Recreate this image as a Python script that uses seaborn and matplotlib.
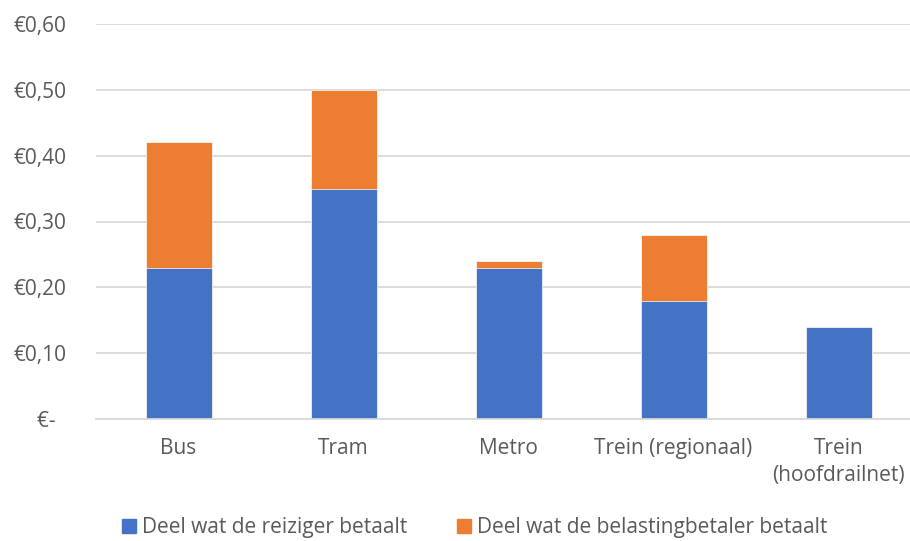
import numpy as np
import matplotlib
matplotlib.use("Agg")
import matplotlib.pyplot as plt
import seaborn as sns
from matplotlib.patches import Patch

categories = ["Bus", "Tram", "Metro", "Trein (regionaal)", "Trein\n(hoofdrailnet)"]
reiziger = [0.23, 0.35, 0.23, 0.18, 0.14]
belasting = [0.19, 0.15, 0.01, 0.10, 0.00]
totaal = [r + b for r, b in zip(reiziger, belasting)]
yticks = [0.0, 0.1, 0.2, 0.3, 0.4, 0.5, 0.6]
ylabels = ["€-  ", "€0,10", "€0,20", "€0,30", "€0,40", "€0,50", "€0,60"]

blue = "#4472C4"
orange = "#ED7D31"
txt = "#595959"
grid = "#D9D9D9"
fs = 15

sns.set_style("white")
plt.rcParams['font.family'] = ['Open Sans', 'DejaVu Sans']

fig = plt.figure(figsize=(9.1, 5.41), dpi=100)
ax = fig.add_axes([96/910, 1 - 419/541, 825/910, 395/541])

# orange stack = total, blue drawn over it
sns.barplot(x=categories, y=totaal, color=orange, width=0.4, saturation=1, ax=ax,
            edgecolor="white", linewidth=0.5)
sns.barplot(x=categories, y=reiziger, color=blue, width=0.4, saturation=1, ax=ax,
            edgecolor="white", linewidth=0.5)

ax.set_ylim(0, 0.6)
ax.set_xlim(-0.5, len(categories) - 0.5)
ax.set_yticks(yticks)
ax.set_yticklabels(ylabels)
ax.yaxis.grid(True, color=grid, linewidth=1.3)
ax.set_axisbelow(True)
for s in ["top", "right", "left"]:
    ax.spines[s].set_visible(False)
ax.spines["bottom"].set_color(grid)
ax.spines["bottom"].set_linewidth(1.3)
ax.tick_params(axis="y", length=0, pad=21, labelsize=fs, labelcolor=txt)
ax.tick_params(axis="x", length=0, pad=14, labelsize=fs, labelcolor=txt)
for lab in ax.get_xticklabels():
    lab.set_linespacing(1.35)
ax.set_xlabel("")
ax.set_ylabel("")

handles = [Patch(color=blue, label="Deel wat de reiziger betaalt"),
           Patch(color=orange, label="Deel wat de belastingbetaler betaalt")]
fig.legend(handles=handles, loc="center", bbox_to_anchor=(0.522, 1 - 528/541), ncol=2,
           frameon=False, fontsize=fs, labelcolor=txt, handlelength=0.65, handleheight=0.65,
           handletextpad=0.3, columnspacing=2.4)

fig.savefig("out.png", dpi=100)
